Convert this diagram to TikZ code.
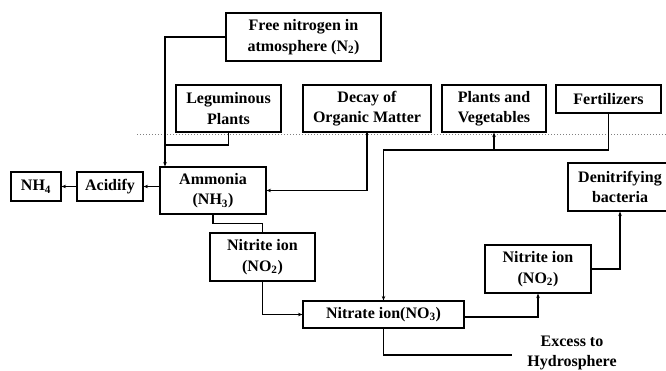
\documentclass[tikz,border=0pt]{standalone}
\usepackage{fontspec}
\setmainfont{Liberation Serif}
\usetikzlibrary{arrows.meta,calc}
\begin{document}
\begin{tikzpicture}[x=1pt,y=-1pt,
  box/.style={draw, line width=1.1pt, align=center, inner sep=0pt,
    font=\fontsize{16}{20.5}\selectfont\bfseries},
  conn/.style={line width=1.1pt},
  arr/.style={line width=1.1pt, -{Stealth[length=4.5pt,width=3.5pt]}},
  lbl/.style={align=center, inner sep=0pt, font=\fontsize{16}{20.5}\selectfont\bfseries}]
\useasboundingbox (0,0) rectangle (666,371);
\draw[dotted, gray, line width=1pt] (137,135) -- (666,135);
\node[box, minimum width=155, minimum height=48] (fn) at (303.5,37) {Free nitrogen in\\atmosphere (N\textsubscript{2})};
\node[box, minimum width=105, minimum height=47] (leg) at (228.5,108.5) {Leguminous\\Plants};
\node[box, minimum width=128, minimum height=47] (decay) at (367,108.5) {Decay of\\Organic Matter};
\node[box, minimum width=104, minimum height=47] (plants) at (494,108.5) {Plants and\\Vegetables};
\node[box, minimum width=105, minimum height=28] (fert) at (608.5,99) {Fertilizers};
\node[box, minimum width=106, minimum height=47] (amm) at (213,190.5) {Ammonia\\(NH\textsubscript{3})};
\node[box, minimum width=66, minimum height=29] (acid) at (110,186.5) {Acidify};
\node[box, minimum width=50, minimum height=29] (nh4) at (36,186.5) {NH\textsubscript{4}};
\node[box, minimum width=105, minimum height=48] (nit1) at (262.5,257) {Nitrite ion\\(NO\textsubscript{2})};
\node[box, minimum width=161, minimum height=27] (nitrate) at (383.5,314.5) {Nitrate ion(NO\textsubscript{3})};
\node[box, minimum width=106, minimum height=48] (nit2) at (538,269) {Nitrite ion\\(NO\textsubscript{2})};
\node[box, minimum width=104, minimum height=48] (denit) at (620,187) {Denitrifying\\bacteria};
\node[lbl] (excess) at (572,353) {Excess to\\Hydrosphere};
\coordinate (j1) at (165,145);
\coordinate (j2) at (383.5,150);
\coordinate (e1) at (512,355);
\draw[arr] (fn.west) -| (amm.north -| j1);
\draw[conn] (leg.south) |- (j1);
\draw[arr] (decay.south) |- (amm.east);
\draw[arr] (fert.south) |- (j2) -- (nitrate.north);
\draw[arr] (plants.south |- j2) -- (plants.south);
\draw[arr] (acid.east -| amm.west) -- (acid.east);
\draw[arr] (acid.west) -- (nh4.east);
\draw[conn] (amm.south) |- ($(nit1.north)+(0,-9)$) -- (nit1.north);
\draw[arr] (nit1.south) |- (nitrate.west);
\draw[arr] ($(nitrate.east)+(0,2.5)$) -| (nit2.south);
\draw[arr] (nit2.east) -| (denit.south);
\draw[conn] (nitrate.south) |- (e1);
\end{tikzpicture}
\end{document}
